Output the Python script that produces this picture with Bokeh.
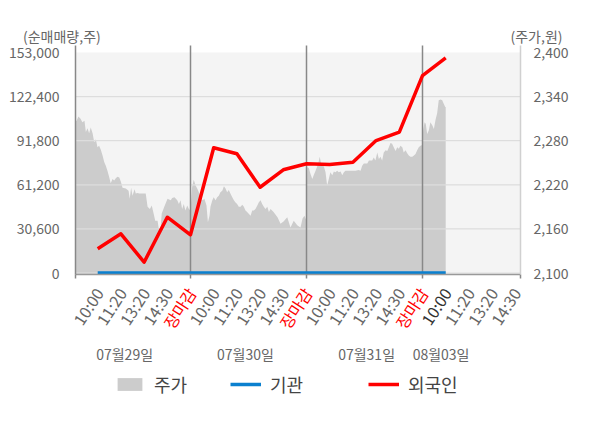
import math
from bokeh.plotting import figure
from bokeh.models import (Range1d, LinearAxis, FixedTicker, NumeralTickFormatter,
                          Label, Legend, LegendItem, BoxAnnotation)
from bokeh.embed import file_html
from bokeh.resources import INLINE

FONT = "Noto Sans CJK KR"

# ---------------- data ----------------
# intraday price (주가), positions in session units (each day = 5 units)
price_pos = [
    0.04, 0.09, 0.17, 0.26, 0.34, 0.43, 0.49, 0.56, 0.63, 0.70, 0.78, 0.85, 0.92, 0.99,
    1.06, 1.13, 1.21, 1.28, 1.35, 1.42, 1.50, 1.56, 1.64, 1.71, 1.78, 1.85, 1.93, 2.00,
    2.07, 2.21, 2.33, 2.38, 2.44, 2.50, 2.59, 2.64, 2.72, 2.79, 2.93, 3.07, 3.15, 3.25,
    3.33, 3.41, 3.48, 3.58, 3.64, 3.71, 3.76, 3.87, 4.01, 4.15, 4.21, 4.31, 4.43, 4.50,
    4.57, 4.64, 4.71, 4.78, 4.86, 4.93, 5.00,
    5.07, 5.14, 5.22, 5.29, 5.36, 5.43, 5.52, 5.60, 5.69, 5.75, 5.82, 5.86, 5.94, 6.00,
    6.08, 6.15, 6.22, 6.29, 6.37, 6.44, 6.51, 6.58, 6.65, 6.72, 6.80, 6.87, 6.94, 7.01,
    7.08, 7.16, 7.23, 7.30, 7.37, 7.44, 7.59, 7.66, 7.73, 7.80, 7.88, 7.94, 8.02, 8.09,
    8.16, 8.23, 8.31, 8.38, 8.45, 8.58, 8.75, 8.88, 9.01, 9.17, 9.31, 9.45, 9.60, 9.74,
    9.83, 9.91, 10.00,
    10.03, 10.10, 10.17, 10.25, 10.31, 10.39, 10.46, 10.53, 10.57, 10.65, 10.75, 10.82,
    10.89, 10.96, 11.03, 11.11, 11.18, 11.25, 11.32, 11.39, 11.47, 11.54, 11.61, 11.68,
    11.82, 11.97, 12.11, 12.25, 12.33, 12.40, 12.47, 12.62, 12.69, 12.83, 12.90, 12.97,
    13.05, 13.12, 13.19, 13.26, 13.33, 13.41, 13.48, 13.55, 13.62, 13.69, 13.76, 13.84,
    13.91, 13.98, 14.05, 14.13, 14.19, 14.27, 14.34, 14.41, 14.48, 14.56, 14.63, 14.70,
    14.77, 14.84, 14.91, 14.99,
    15.03, 15.09, 15.14, 15.20, 15.27, 15.34, 15.42, 15.49, 15.56, 15.63, 15.70, 15.78,
    15.85, 15.92, 15.98, 16.00,
]
price = [
    2306, 2307, 2313, 2310, 2305, 2307, 2292, 2297, 2290, 2298, 2290, 2278, 2282, 2271,
    2273, 2268, 2260, 2251, 2246, 2239, 2230, 2222, 2228, 2226, 2229, 2231, 2230, 2224,
    2216, 2215, 2212, 2201, 2216, 2205, 2214, 2208, 2209, 2208, 2208, 2208, 2190, 2187,
    2192, 2181, 2171, 2171, 2159, 2161, 2181, 2190, 2201, 2199, 2202, 2203, 2199, 2194,
    2199, 2187, 2194, 2185, 2192, 2187, 2185,
    2217, 2227, 2219, 2215, 2210, 2203, 2199, 2201, 2192, 2169, 2178, 2190, 2199, 2203,
    2199, 2203, 2205, 2210, 2212, 2218, 2215, 2210, 2213, 2208, 2203, 2199, 2196, 2194,
    2190, 2190, 2193, 2190, 2185, 2183, 2178, 2185, 2185, 2187, 2192, 2196, 2199, 2194,
    2190, 2187, 2190, 2183, 2187, 2183, 2176, 2167, 2170, 2176, 2162, 2171, 2165, 2162,
    2174, 2178, 2171,
    2244, 2243, 2235, 2228, 2233, 2239, 2245, 2252, 2258, 2246, 2245, 2237,
    2219, 2228, 2237, 2233, 2238, 2237, 2239, 2237, 2238, 2233, 2237, 2239,
    2239, 2239, 2239, 2240, 2239, 2246, 2249, 2249, 2253, 2253, 2257, 2253,
    2264, 2255, 2258, 2253, 2264, 2267, 2266, 2271, 2277, 2276, 2271, 2266,
    2271, 2269, 2273, 2271, 2264, 2267, 2263, 2260, 2258, 2258, 2260, 2262,
    2267, 2271, 2273, 2274,
    2295, 2305, 2303, 2289, 2294, 2305, 2301, 2296, 2308, 2317, 2335, 2336,
    2335, 2330, 2326, 2326,
]

# net buying (순매매량) checkpoints
flow_pos = list(range(1, 17))
foreign = [16800, 27200, 7500, 38700, 26500, 86900, 82700, 59500, 71600,
           75800, 75300, 76900, 91900, 97700, 137000, 149300]
institution = [0] * 16

time_labels = ["10:00", "11:20", "13:20", "14:30", "장마감"]
session_len = 5
n_ticks = 19
dates = ["07월29일", "07월30일", "07월31일", "08월03일"]
date_pos = [2.16, 7.37, 12.59, 15.8]
left_ticks = [0, 30600, 61200, 91800, 122400, 153000]
right_ticks = [2100, 2160, 2220, 2280, 2340, 2400]

# ---------------- pixel <-> data helpers (layout only) ----------------
W, H = 600, 428
PX_U0, PX_PER_U = 74.0, 23.2          # x pixel of unit 0, pixels per unit
PY_ZERO, PY_TOP = 272.5, 52.0         # pixel rows of the lowest / highest tick
LPX = (left_ticks[-1] - left_ticks[0]) / (PY_ZERO - PY_TOP)
RPX = (right_ticks[-1] - right_ticks[0]) / (PY_ZERO - PY_TOP)


def ux(px):
    return (px - PX_U0) / PX_PER_U


def ly(py):
    return left_ticks[0] + (PY_ZERO - py) * LPX


def ry(py):
    return right_ticks[0] + (PY_ZERO - py) * RPX


X0, X1 = ux(75), ux(520)
YB, YT = 274, 45

GRAY_TXT = "#666666"

p = figure(width=W, height=H, output_backend="svg", toolbar_location=None,
           x_range=Range1d(ux(0), ux(W)), y_range=Range1d(ly(H), ly(0)),
           min_border=0, min_border_left=0, min_border_right=0,
           min_border_top=0, min_border_bottom=0,
           background_fill_color="white", border_fill_color="white",
           outline_line_color=None, title=None)
p.extra_y_ranges = {"price": Range1d(ry(H), ry(0))}
p.xgrid.visible = False
p.ygrid.visible = False

# plot-area background
p.add_layout(BoxAnnotation(left=X0, right=X1, bottom=ly(YB), top=left_ticks[-1],
                           fill_color="#f4f4f4", fill_alpha=1, line_alpha=0,
                           level="underlay"))

# left axis
ya = p.yaxis[0]
ya.fixed_location = X0
ya.bounds = (ly(YB), ly(YT))
ya.ticker = FixedTicker(ticks=left_ticks)
ya.formatter = NumeralTickFormatter(format="0,0")
ya.major_tick_line_color = None
ya.minor_tick_line_color = None
ya.axis_line_color = "#888888"
ya.axis_line_width = 1.5
ya.major_label_text_font = FONT
ya.major_label_text_font_size = "14px"
ya.major_label_text_color = GRAY_TXT
ya.major_label_standoff = 10

# right axis
ra = LinearAxis(y_range_name="price", ticker=FixedTicker(ticks=right_ticks),
                formatter=NumeralTickFormatter(format="0,0"),
                fixed_location=X1, bounds=(ry(YB), ry(YT)))
ra.major_tick_line_color = None
ra.minor_tick_line_color = None
ra.axis_line_color = "#d0d0d0"
ra.axis_line_width = 1.5
ra.major_label_text_font = FONT
ra.major_label_text_font_size = "14px"
ra.major_label_text_color = GRAY_TXT
ra.major_label_standoff = 7
p.add_layout(ra, "right")

# x axis (time labels are drawn below as rotated texts)
day_bounds = [session_len * k for k in range(1, 4)]
xa = p.xaxis[0]
xa.fixed_location = ly(YB)
xa.bounds = (X0, X1)
xa.ticker = FixedTicker(ticks=[], minor_ticks=[X0] + day_bounds + [X1])
xa.major_tick_line_color = None
xa.minor_tick_line_color = "#888888"
xa.minor_tick_line_width = 1.5
xa.minor_tick_in = 0
xa.minor_tick_out = 4
xa.axis_line_color = "#999999"
xa.axis_line_width = 1.5

# ---------------- glyphs ----------------
area = p.varea(x=price_pos, y1=[ry(YB)] * len(price_pos), y2=price,
               fill_color="#cccccc", y_range_name="price")
grid_vals = left_ticks[:-1]
p.segment(x0=[X0] * len(grid_vals), x1=[X1] * len(grid_vals),
          y0=grid_vals, y1=grid_vals, line_color="#dddddd", line_width=1.2)
p.segment(x0=day_bounds, x1=day_bounds, y0=[ly(YB)] * 3, y1=[ly(YT)] * 3,
          line_color="#888888", line_width=1.5)
inst = p.line(flow_pos, institution, line_color="#0b80cf", line_width=3.5)
forg = p.line(flow_pos, foreign, line_color="#ff0000", line_width=3.5,
              line_join="round")

# ---------------- texts ----------------
for t in range(1, n_ticks + 1):
    lab = time_labels[(t - 1) % session_len]
    col = GRAY_TXT
    if lab == "장마감":
        col = "#ff0000"
    elif t == 3 * session_len + 1:
        col = "#333333"
    p.add_layout(Label(x=t, y=ly(289), x_offset=1, text=lab, angle=math.radians(57),
                       text_align="right", text_baseline="middle",
                       text_font=FONT, text_font_size="16px", text_color=col))
for d, xpos in zip(dates, date_pos):
    p.add_layout(Label(x=xpos, y=ly(353), text=d, text_align="center",
                       text_baseline="middle", text_font=FONT,
                       text_font_size="14px", text_color=GRAY_TXT))
p.add_layout(Label(x=ux(22.5), y=ly(35), text="(순매매량,주)",
                   text_align="left", text_baseline="middle", text_font=FONT,
                   text_font_size="14px", text_color=GRAY_TXT))
p.add_layout(Label(x=ux(562), y=ly(35), text="(주가,원)",
                   text_align="right", text_baseline="middle", text_font=FONT,
                   text_font_size="14px", text_color=GRAY_TXT))

# ---------------- legends ----------------
for item, lx in [(LegendItem(label="주가", renderers=[area]), 114),
                 (LegendItem(label="기관", renderers=[inst]), 230),
                 (LegendItem(label="외국인", renderers=[forg]), 368)]:
    lg = Legend(items=[item], location=(lx, H - 397), orientation="horizontal",
                glyph_width=31, glyph_height=16, label_standoff=9,
                label_text_font=FONT, label_text_font_size="18px",
                label_text_color="#444444", label_height=22,
                padding=0, margin=0, spacing=0,
                border_line_alpha=0, background_fill_alpha=0)
    p.add_layout(lg)

open("out.html", "w").write(file_html(p, INLINE))
